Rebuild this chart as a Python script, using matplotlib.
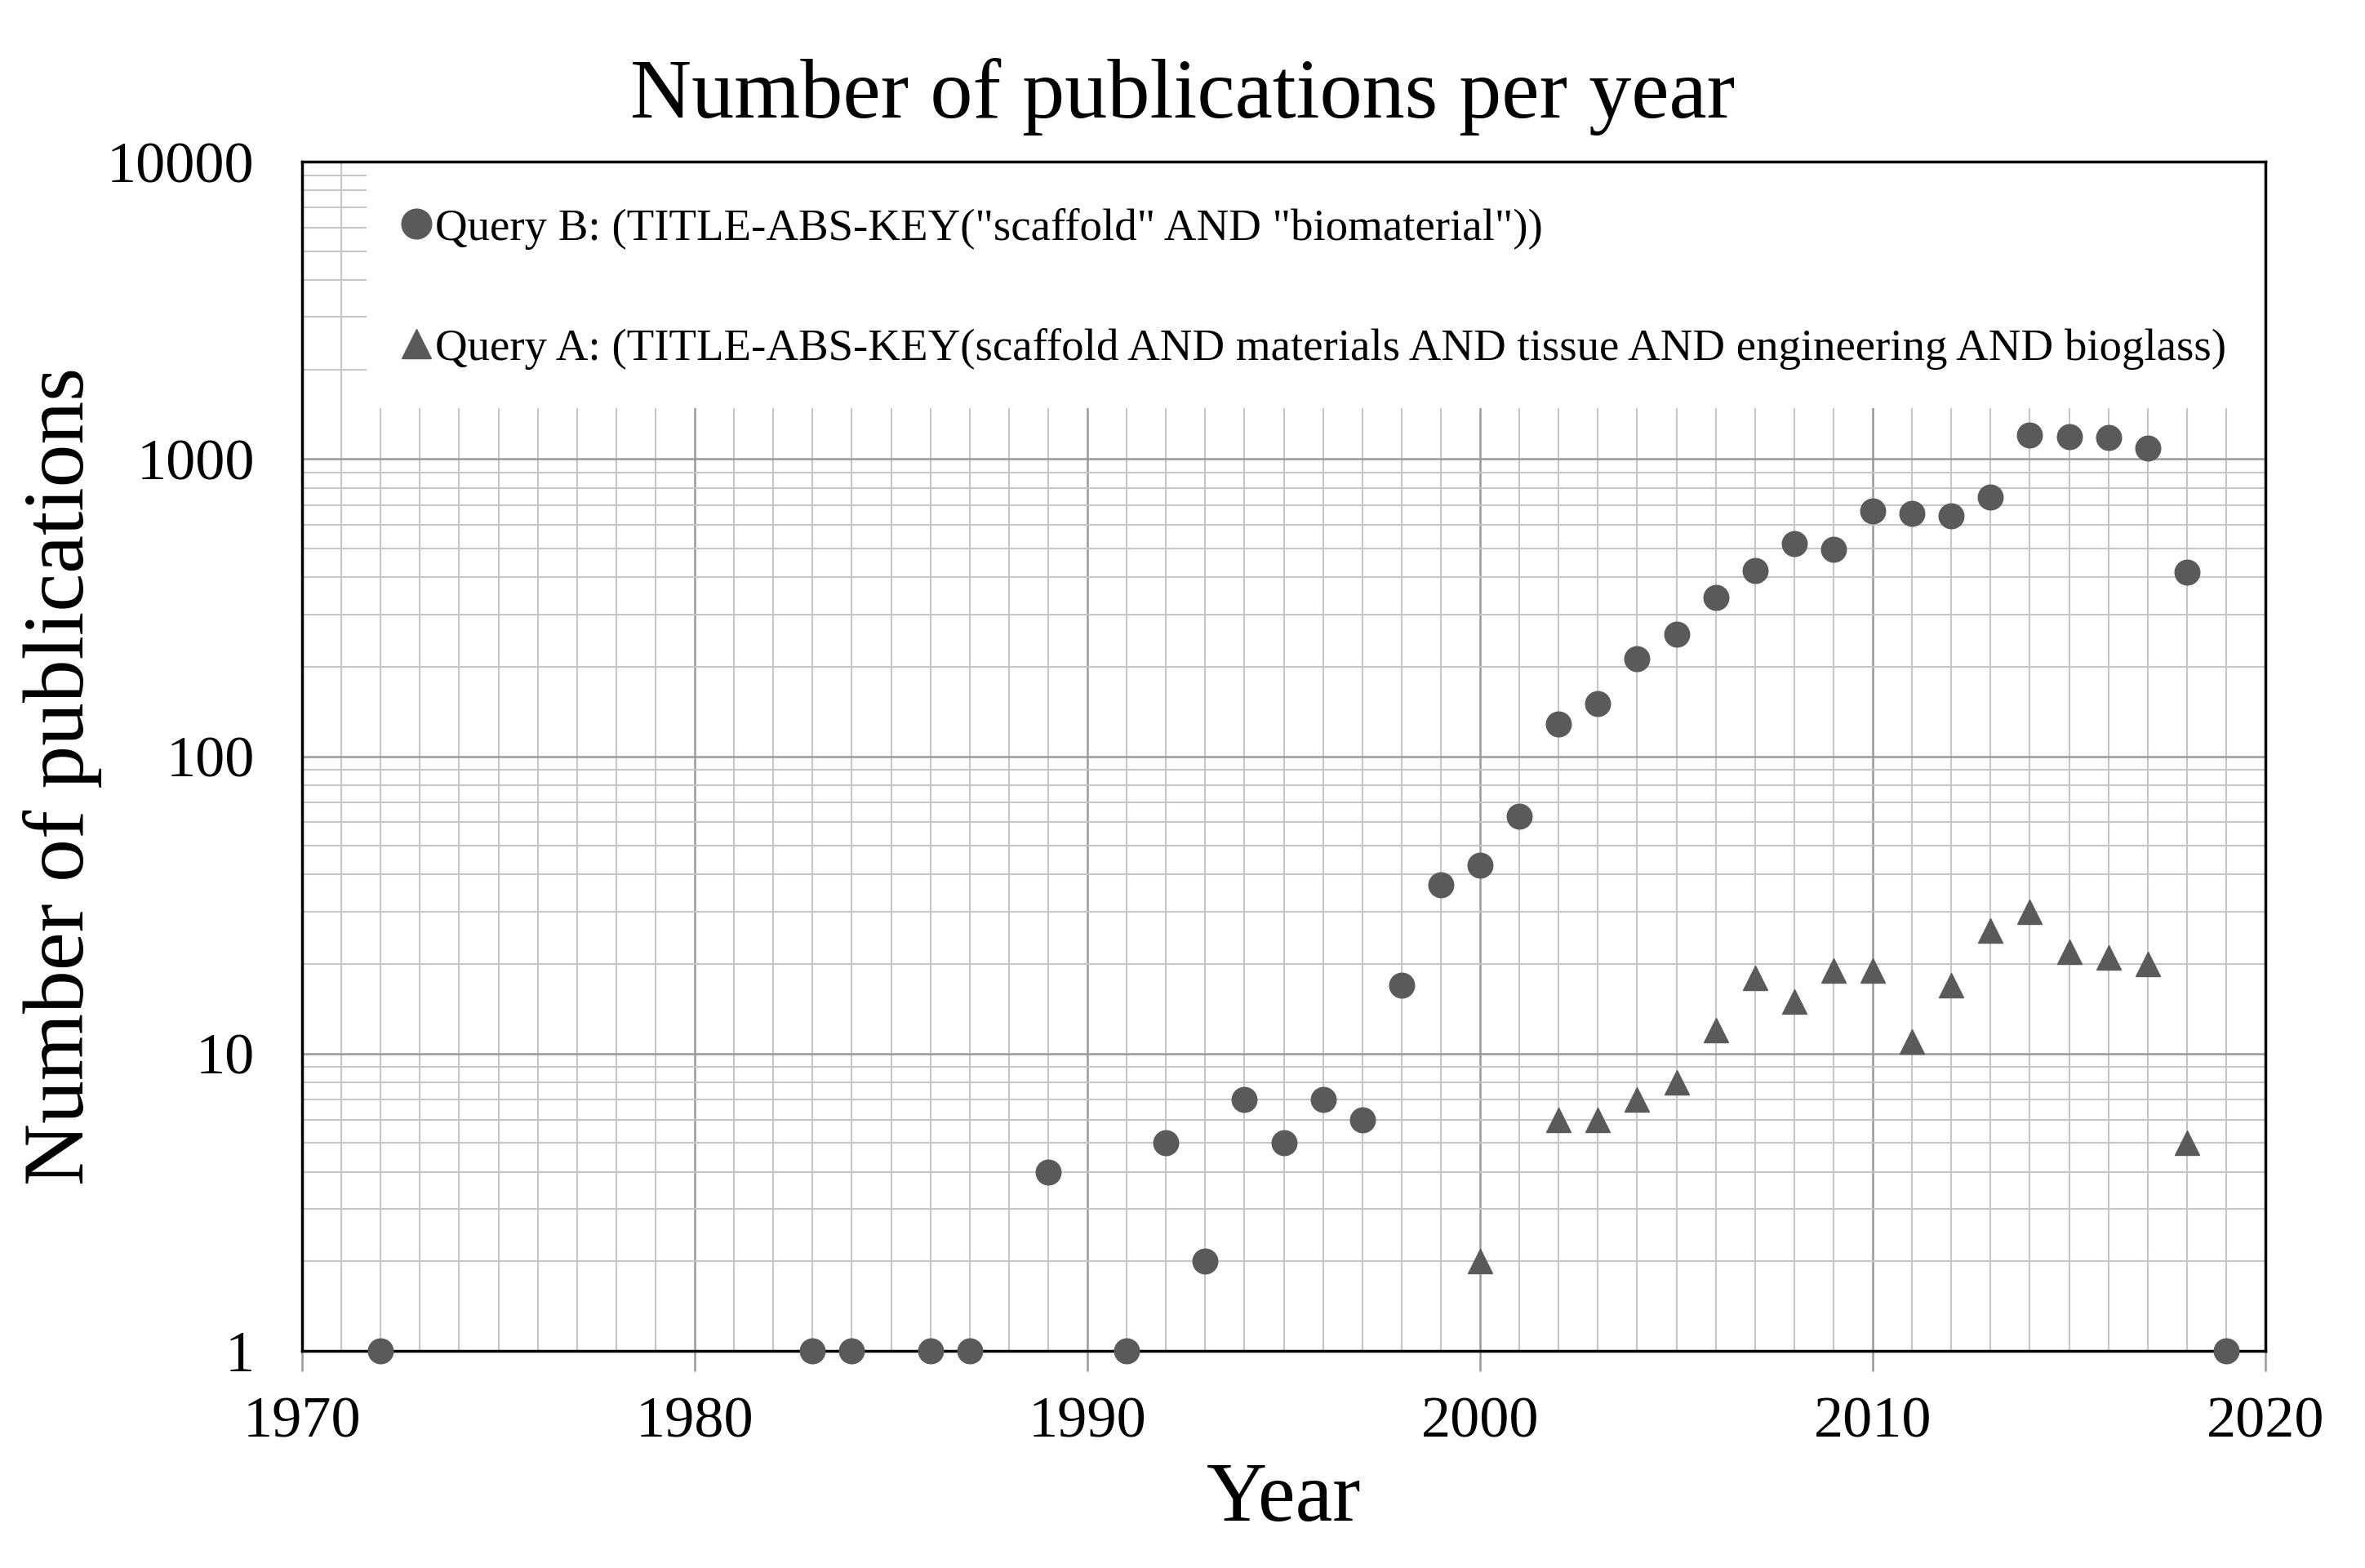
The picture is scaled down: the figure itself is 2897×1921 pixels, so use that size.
import numpy as np
import matplotlib.pyplot as plt
from matplotlib.patches import Rectangle
from matplotlib.ticker import FixedLocator, NullFormatter

plt.rcParams['font.family'] = ['Liberation Serif', 'DejaVu Serif']

# Query B: scaffold AND biomaterial
years_b = [1972, 1983, 1984, 1986, 1987, 1989, 1991, 1992, 1993, 1994, 1995,
           1996, 1997, 1998, 1999, 2000, 2001, 2002, 2003, 2004, 2005, 2006,
           2007, 2008, 2009, 2010, 2011, 2012, 2013, 2014, 2015, 2016, 2017,
           2018, 2019]
counts_b = [1, 1, 1, 1, 1, 4, 1, 5, 2, 7, 5,
            7, 6, 17, 37, 43, 63, 128, 150, 213, 257, 343,
            420, 518, 495, 670, 655, 645, 745, 1205, 1190, 1180, 1090,
            415, 1]

# Query A: bioglass
years_a = [2000, 2002, 2003, 2004, 2005, 2006, 2007, 2008, 2009, 2010, 2011,
           2012, 2013, 2014, 2015, 2016, 2017, 2018]
counts_a = [2, 6, 6, 7, 8, 12, 18, 15, 19, 19, 11,
            17, 26, 30, 22, 21, 20, 5]

label_b = 'Query B: (TITLE-ABS-KEY("scaffold" AND "biomaterial"))'
label_a = 'Query A: (TITLE-ABS-KEY(scaffold AND materials AND tissue AND engineering AND bioglass)'

marker_col = '#5a5a5a'
major_col = '#999999'
minor_col = '#c6c6c6'

fig = plt.figure(figsize=(28.97, 19.21), dpi=100)
ax = fig.add_axes([370 / 2897, 1 - 1655 / 1921, 2405 / 2897, 1457 / 1921])

ax.set_yscale('log')
ax.set_xlim(1970, 2020)
ax.set_ylim(1, 10000)

# grid like the Excel original
ax.set_axisbelow(True)
ax.xaxis.set_major_locator(FixedLocator(np.arange(1970, 2021, 10)))
ax.xaxis.set_minor_locator(FixedLocator(np.arange(1970, 2021, 1)))
ax.yaxis.set_major_locator(FixedLocator([1, 10, 100, 1000, 10000]))
minor_y = [m * 10 ** d for d in range(4) for m in range(2, 10)]
ax.yaxis.set_minor_locator(FixedLocator(minor_y))
ax.yaxis.set_minor_formatter(NullFormatter())
ax.set_yticklabels(['1', '10', '100', '1000', '10000'])
ax.grid(which='major', color=major_col, linewidth=1.8)
ax.grid(which='minor', color=minor_col, linewidth=1.5)

ax.tick_params(axis='x', which='major', length=18, width=1.8, color=major_col,
               pad=22, labelsize=52)
ax.tick_params(axis='x', which='minor', length=0)
ax.tick_params(axis='y', which='both', length=0, pad=42, labelsize=52)

for s in ax.spines.values():
    s.set_linewidth(2.5)
    s.set_color('black')

# white area behind the legend
ax.add_patch(Rectangle((0.033, 0.793), 0.967, 0.207, transform=ax.transAxes,
                       facecolor='white', edgecolor='none', zorder=1))

ax.plot(years_b, counts_b, 'o', color=marker_col, markersize=22, zorder=3,
        clip_on=False, label=label_b)
ax.plot(years_a, counts_a, '^', color=marker_col, markersize=22, zorder=3,
        clip_on=False, label=label_a)

ax.legend(loc='upper left', bbox_to_anchor=(0.04, 0.98), frameon=False,
          fontsize=39.5, handlelength=0.6, handletextpad=0.12, labelspacing=1.75,
          borderpad=0, markerscale=1.2)

fig.suptitle('Number of publications per year', fontsize=75, x=0.5, y=0.963)
ax.set_xlabel('Year', fontsize=74)
ax.xaxis.set_label_coords(0.5, -0.093)
ax.set_ylabel('Number of publications', fontsize=76)
ax.yaxis.set_label_coords(-0.102, 0.483)

fig.savefig('out.png', dpi=100)
